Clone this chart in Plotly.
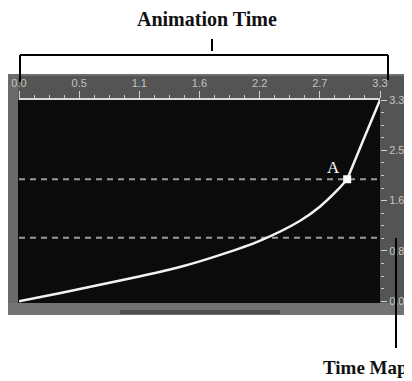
import plotly.graph_objects as go

# page body adds an 8px margin, so the figure is drawn 8px in from the window edge
OFF = 8
W, H = 412 - OFF, 381 - OFF

# curve (animation time -> mapped time)
anim_time = [0.0, 0.37, 0.74, 1.11, 1.47, 1.84, 2.20, 2.57, 2.75, 2.91, 3.0, 3.14, 3.3]
mapped_time = [0.0, 0.13, 0.27, 0.41, 0.56, 0.76, 0.99, 1.32, 1.55, 1.82, 2.0, 2.61, 3.3]

key_x = [3.0]
key_y = [2.0]
key_label = ["A"]

guide_levels = [1.04, 2.0]

x_tickvals = [0.0, 0.55, 1.1, 1.65, 2.2, 2.75, 3.3]
x_ticktext = ["0.0", "0.5", "1.1", "1.6", "2.2", "2.7", "3.3"]
y_tickvals = [0.0, 0.825, 1.65, 2.475, 3.3]
y_ticktext = ["0.0", "0.8", "1.6", "2.5", "3.3"]


def px(x):
    return (x - OFF) / W


def py(y):
    return 1 - (y - OFF) / H


def rect(x0, x1, y0, y1, color):
    return dict(type="rect", xref="paper", yref="paper", x0=px(x0), x1=px(x1), y0=py(y1), y1=py(y0),
                fillcolor=color, line_width=0, layer="below")


fig = go.Figure()

# the curve bends at keyframe A, so draw it as two smooth pieces
k = anim_time.index(key_x[0])
for xs, ys in [(anim_time[:k + 1], mapped_time[:k + 1]), (anim_time[k:], mapped_time[k:])]:
    fig.add_trace(go.Scatter(
        x=xs, y=ys, mode="lines",
        line=dict(color="#f2f2f2", width=2.5, shape="spline", smoothing=0.8),
        hoverinfo="skip", showlegend=False,
    ))

fig.add_trace(go.Scatter(
    x=key_x, y=key_y, mode="markers",
    marker=dict(symbol="square", size=8, color="white"),
    hoverinfo="skip", showlegend=False,
))
for kx, ky, kl in zip(key_x, key_y, key_label):
    fig.add_annotation(x=kx, y=ky, text=kl, showarrow=False, xshift=-14, yshift=12,
                       font=dict(family="Liberation Serif", size=17, color="white"))

shapes = [
    # grey panel around the graph
    rect(8, 412, 74, 315, "#545454"),
    rect(8, 18, 74, 315, "#6a6a6a"),
    rect(8, 412, 303, 315, "#737373"),
    rect(120, 280, 310, 314, "#505050"),
    rect(8, 412, 74, 76, "#6e6e6e"),
    # black graph area
    rect(18, 380, 100, 303, "#0b0b0b"),
]

# bracket for "Animation Time"
bk = dict(color="black", width=2)
shapes.append(dict(type="line", xref="paper", yref="paper", x0=px(20), x1=px(388), y0=py(55), y1=py(55), line=bk))
shapes.append(dict(type="line", xref="paper", yref="paper", x0=px(20), x1=px(20), y0=py(55), y1=py(82), line=bk))
shapes.append(dict(type="line", xref="paper", yref="paper", x0=px(388), x1=px(388), y0=py(55), y1=py(80), line=bk))
shapes.append(dict(type="line", xref="paper", yref="paper", x0=px(212), x1=px(212), y0=py(39), y1=py(51), line=bk))
# pointer for "Time Map"
shapes.append(dict(type="line", xref="paper", yref="paper", x0=px(396), x1=px(396), y0=py(238), y1=py(348), line=bk))

fig.update_layout(shapes=shapes)

for lv in guide_levels:
    fig.add_hline(y=lv, line=dict(color="#9a9a9a", width=2, dash="6px,5px"), layer="below")

fig.add_annotation(text="<b>Animation Time</b>", xref="paper", yref="paper", x=px(207), y=py(19),
                   xanchor="center", yanchor="middle", showarrow=False,
                   font=dict(family="Liberation Serif", size=20, color="#111"))
fig.add_annotation(text="<b>Time Map</b>", xref="paper", yref="paper", x=px(321), y=py(367),
                   xanchor="left", yanchor="middle", showarrow=False,
                   font=dict(family="Liberation Serif", size=19, color="#111"))

tickfont = dict(family="Liberation Sans", size=11, color="#c4c4c4")

fig.update_layout(
    width=W, height=H,
    margin=dict(l=0, r=0, t=0, b=0, pad=0),
    paper_bgcolor="white",
    plot_bgcolor="rgba(0,0,0,0)",
    xaxis=dict(
        domain=[px(19), px(380)], range=[0, 3.3], side="top", automargin=False,
        tickvals=x_tickvals, ticktext=x_ticktext, tickfont=tickfont,
        ticks="outside", ticklen=7, tickwidth=1, tickcolor="#d0d0d0",
        minor=dict(dtick=0.1375, tick0=0, ticks="outside", ticklen=3, tickcolor="#c8c8c8"),
        showline=True, linecolor="#d8d8d8", linewidth=2,
        showgrid=False, zeroline=False, fixedrange=True,
    ),
    yaxis=dict(
        domain=[py(303), py(100)], range=[-0.03, 3.3], side="right", automargin=False,
        tickvals=y_tickvals, ticktext=y_ticktext, tickfont=tickfont,
        ticks="outside", ticklen=6, tickwidth=1, tickcolor="#d0d0d0",
        minor=dict(dtick=0.20625, tick0=0, ticks="outside", ticklen=3, tickcolor="#c8c8c8"),
        showline=False, showgrid=False, zeroline=False, fixedrange=True,
    ),
)

fig.write_html("out.html")
